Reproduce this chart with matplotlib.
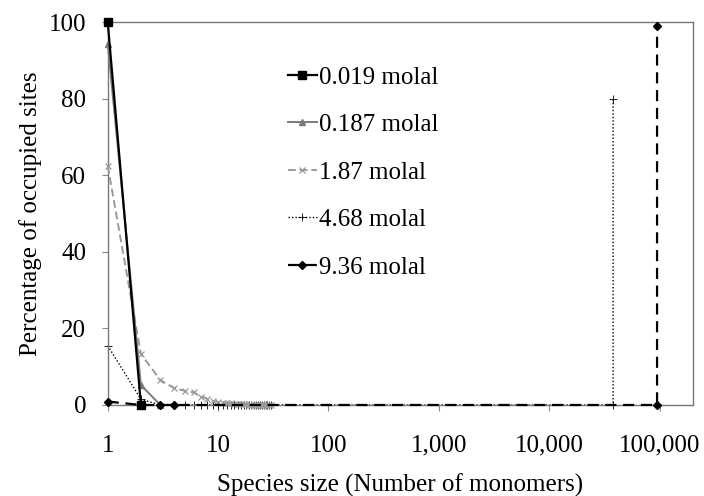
import matplotlib
matplotlib.use("Agg")
import matplotlib.pyplot as plt
import matplotlib.ticker as mticker
import numpy as np

plt.rcParams['font.family'] = ['Liberation Serif', 'DejaVu Serif']

# species size (number of monomers) and percentage of occupied sites
x_0019 = [1, 2]
y_0019 = [100, 0]

x_0187 = [1, 2, 3]
y_0187 = [94.4, 5.2, 0]

x_187 = list(range(1, 31))
y_187 = [62.5, 13.3, 6.5, 4.4, 3.7, 3.3, 2.2, 1.6, 1.0, 0.8,
         0.6, 0.5, 0.4, 0.35, 0.3, 0.25, 0.2, 0.15, 0.12, 0.1,
         0.08, 0.06, 0.05, 0.04, 0.03, 0.02, 0.02, 0.01, 0.01, 0]

x_468 = list(range(1, 31)) + [38000, 38000]
y_468 = [15.5, 1.5] + [0] * 28 + [0, 80]

x_936 = [1, 2, 3, 4, 95000, 95000]
y_936 = [0.9, 0, 0, 0, 0, 99]

labels = ["0.019 molal", "0.187 molal", "1.87 molal", "4.68 molal", "9.36 molal"]

fig = plt.figure(figsize=(7.04, 4.96), dpi=100)
ax = fig.add_axes([0.153, 0.1835, 0.831, 0.772])

ax.plot(x_0019, y_0019, color="black", lw=1.6, marker="s", ms=6, label=labels[0],
        zorder=5, clip_on=False)
ax.plot(x_0187, y_0187, color="#7a7a7a", lw=1.4, marker="^", ms=5, label=labels[1],
        zorder=4, clip_on=False)
ax.plot(x_187, y_187, color="#9a9a9a", lw=1.4, ls=(0, (4, 2)), marker="x", ms=5,
        mew=0.9, label=labels[2], zorder=3, clip_on=False)
ax.plot(x_468, y_468, color="black", lw=1.0, ls=(0, (1, 1.5)), marker="+", ms=6,
        mew=0.6, label=labels[3], zorder=2, clip_on=False)
ax.plot(x_936, y_936, color="black", lw=1.6, ls=(0, (5, 3)), marker="D", ms=4.5,
        label=labels[4], zorder=6, clip_on=False)

ax.set_xscale("log")
ax.set_xlim(1, 2e5)
ax.set_ylim(0, 100)
ax.set_yticks([0, 20, 40, 60, 80, 100])
ax.xaxis.set_major_locator(mticker.FixedLocator([1, 10, 100, 1000, 10000, 100000]))
ax.xaxis.set_minor_locator(mticker.NullLocator())
ax.xaxis.set_major_formatter(mticker.FuncFormatter(lambda v, p: "{:,.0f}".format(v)))
ax.tick_params(axis="both", labelsize=18, length=4.5, width=0.8, color="#888888")
ax.tick_params(axis="y", pad=11)
ax.tick_params(axis="x", pad=17)

for s in ax.spines.values():
    s.set_color("#777777")
    s.set_linewidth(1.0)

ax.set_xlabel("Species size (Number of monomers)", fontsize=18, labelpad=12)
ax.set_ylabel("Percentage of occupied sites", fontsize=18, labelpad=5)

ax.legend(loc="upper left", bbox_to_anchor=(0.308, 0.885), frameon=False, fontsize=18,
          handlelength=1.16, handletextpad=0.1, labelspacing=1.0, borderaxespad=0,
          borderpad=0)

fig.savefig("out.png", dpi=100)
